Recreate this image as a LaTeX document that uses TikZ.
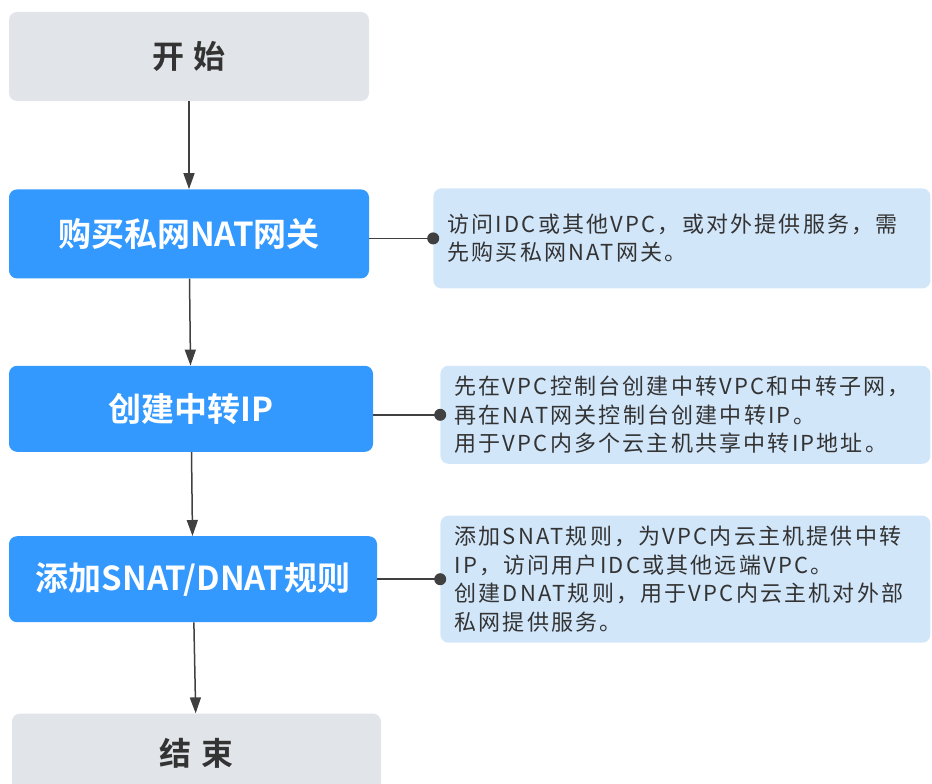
\documentclass[tikz,border=0pt]{standalone}
\usepackage{fontspec}
\setmainfont{Noto Sans CJK SC}[BoldFont={Noto Sans CJK SC Bold}]
\newfontfamily\notefont{Noto Sans CJK SC}[LetterSpace=10]
\usepackage{tikz}
\usetikzlibrary{arrows.meta, positioning}
\definecolor{stepblue}{RGB}{51,153,255}
\definecolor{endgray}{RGB}{225,228,232}
\definecolor{noteblue}{RGB}{210,230,250}
\definecolor{linegray}{RGB}{64,64,64}
\definecolor{textgray}{RGB}{51,51,51}
\tikzstyle{startstop} = [rectangle, fill=endgray, text=textgray, rounded corners=8pt,
     minimum width=360pt, minimum height=89pt, font=\fontsize{32}{38}\selectfont\bfseries]
\tikzstyle{process} = [rectangle, fill=stepblue, text=white, rounded corners=8pt,
     minimum height=86pt, font=\fontsize{33}{38}\selectfont\bfseries]
\tikzstyle{note} = [rectangle, fill=noteblue, text=textgray, rounded corners=8pt,
     align=left, inner xsep=14pt, font=\notefont\fontsize{22}{28.5}\selectfont]
\tikzstyle{arrow} = [line width=1.5pt, draw=linegray, -{Triangle[length=16pt,width=11pt]}]
\tikzstyle{link} = [line width=1.5pt, draw=linegray]

\begin{document}
\begin{tikzpicture}[x=1pt, y=1pt]
     \useasboundingbox (0,0) rectangle (932,-784);
     % Nodes
     \node [startstop] (start) at (189,-56.5) {开\hspace{0.3em}始};
     \node [process, minimum width=360pt, minimum height=89pt, below=88pt of start] (nat) {购买私网NAT网关};
     \node [process, minimum width=364pt, below=87pt of nat, xshift=2pt] (eip) {创建中转IP};
     \node [process, minimum width=368pt, below=84pt of eip, xshift=2pt] (rule) {添加SNAT/DNAT规则};
     \node [startstop, minimum width=369pt, minimum height=80pt, below=91pt of rule, xshift=3.5pt] (stop) {结\hspace{0.3em}束};

     % Notes
     \node [note, text width=469pt, minimum height=100pt, right=64pt of nat, yshift=-4.5pt] (natnote)
          {访问IDC或其他VPC，或对外提供服务，需\\先购买私网NAT网关。};
     \node [note, text width=462pt, minimum height=98pt, right=67pt of eip, yshift=-6pt] (eipnote)
          {先在VPC控制台创建中转VPC和中转子网，\\再在NAT网关控制台创建中转IP。\\用于VPC内多个云主机共享中转IP地址。};
     \node [note, text width=462pt, minimum height=127pt, right=63pt of rule] (rulenote)
          {添加SNAT规则，为VPC内云主机提供中转\\IP，访问用户IDC或其他远端VPC。\\创建DNAT规则，用于VPC内云主机对外部\\私网提供服务。};

     % Arrows
     \draw [arrow] (start) -- (nat);
     \draw [arrow] (nat) -- (eip);
     \draw [arrow] (eip) -- (rule);
     \draw [arrow] (rule) -- (stop);

     % Links to notes
     \draw [link] (natnote.west -| nat.east) -- (natnote.west);
     \draw [link] (eipnote.west -| eip.east) -- (eipnote.west);
     \draw [link] (rulenote.west -| rule.east) -- (rulenote.west);
     \fill [linegray] (natnote.west) circle (6pt);
     \fill [linegray] (eipnote.west) circle (6pt);
     \fill [linegray] (rulenote.west) circle (6pt);
\end{tikzpicture}
\end{document}
